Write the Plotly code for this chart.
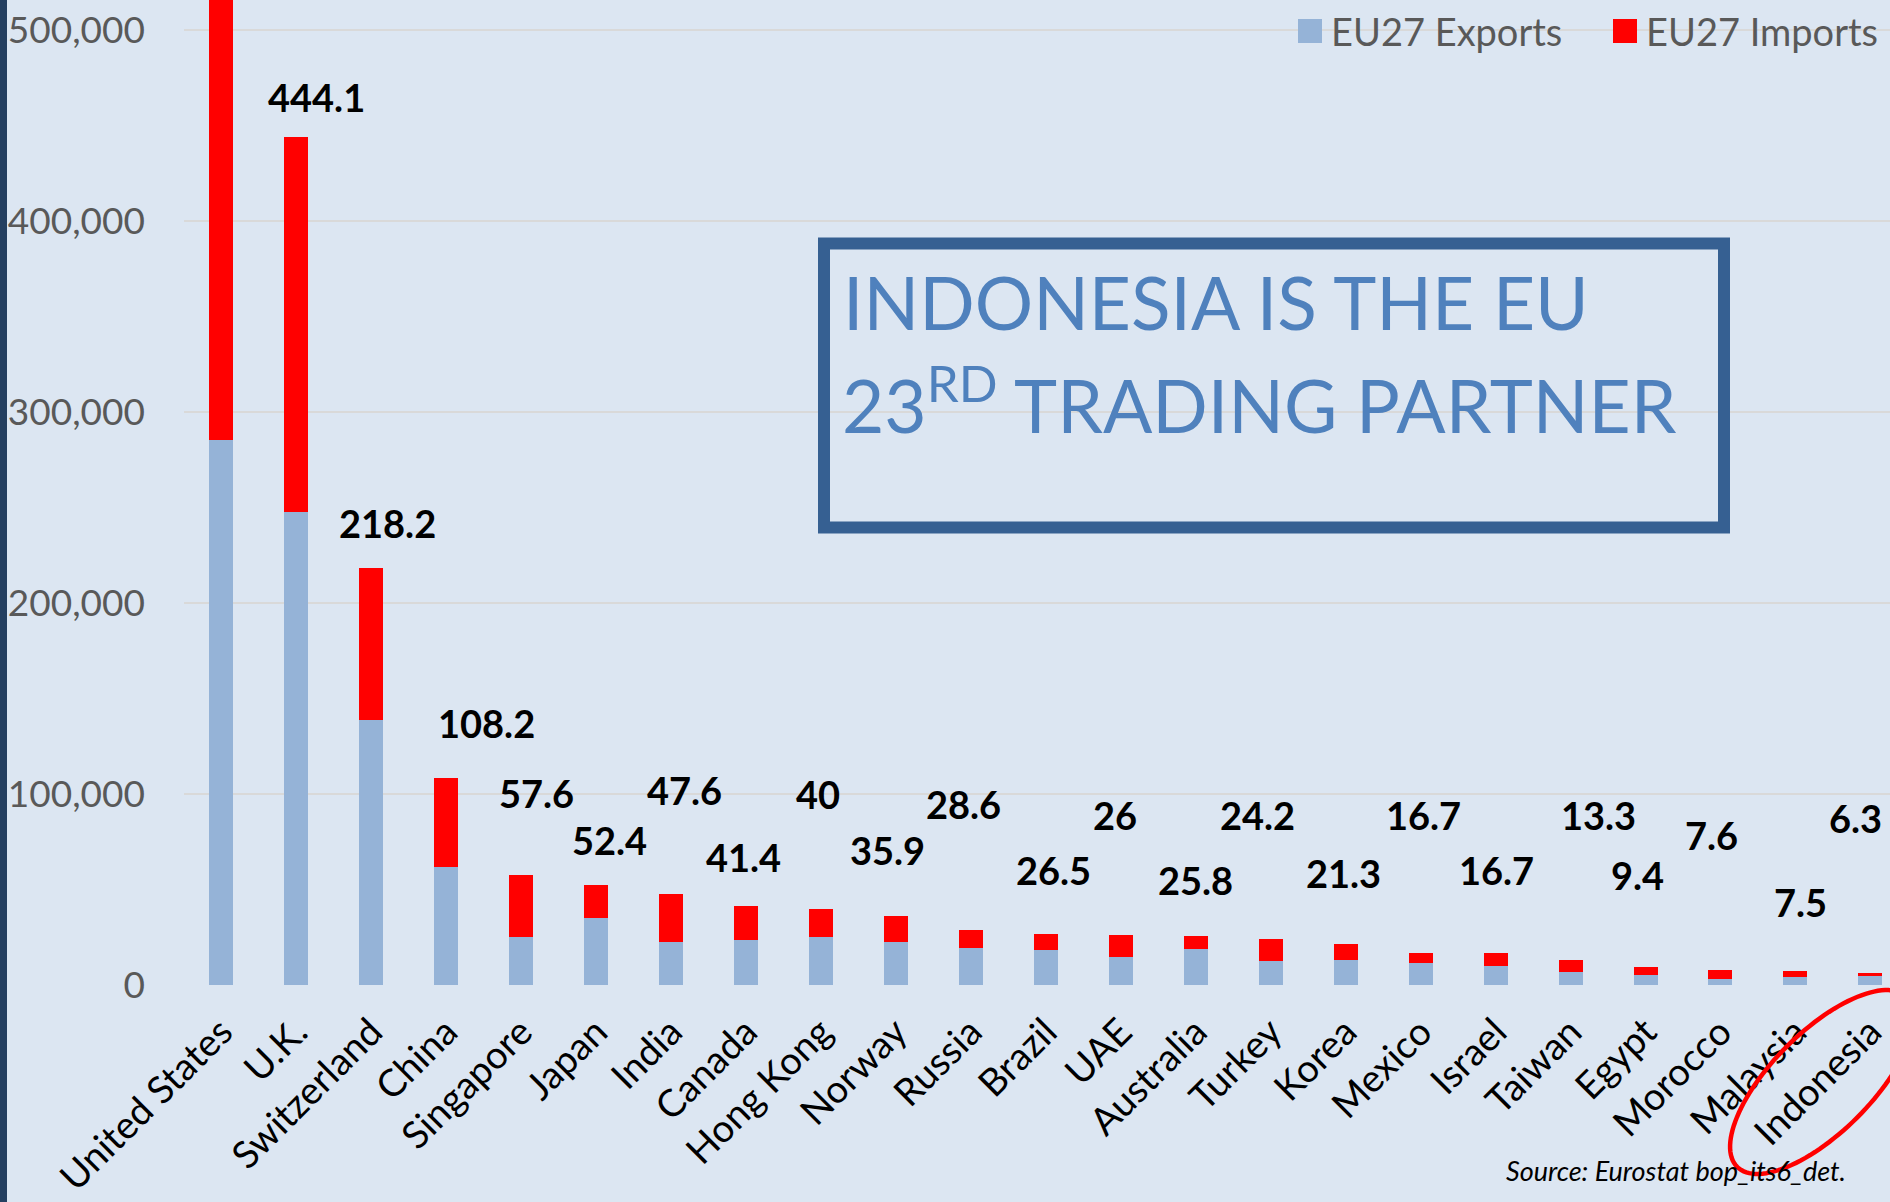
import numpy as np
import plotly.graph_objects as go

# ---------------- data (EUR million) ----------------
countries = ["United States", "U.K.", "Switzerland", "China", "Singapore", "Japan",
             "India", "Canada", "Hong Kong", "Norway", "Russia", "Brazil", "UAE",
             "Australia", "Turkey", "Korea", "Mexico", "Israel", "Taiwan", "Egypt",
             "Morocco", "Malaysia", "Indonesia"]
exports = [285300, 247800, 139000, 62000, 25000, 35300, 22400, 23700, 25000, 22300,
           19200, 18200, 14800, 18700, 12600, 13300, 11300, 9800, 6600, 5100,
           3100, 4200, 4900]
imports = [335000, 196300, 79200, 46200, 32600, 17100, 25200, 17700, 15000, 13600,
           9400, 8300, 11200, 7100, 11600, 8000, 5400, 6900, 6700, 4300,
           4500, 3300, 1400]
tick_vals = [0, 100000, 200000, 300000, 400000, 500000]
tick_text = ["0", "100,000", "200,000", "300,000", "400,000", "500,000"]
series_names = ["EU27 Exports", "EU27 Imports"]
series_colors = ["#95B3D7", "#FF0000"]

# ---------------- label layout (positions, not data) ----------------
label_y = [None, 465000, 242000, 137000, 100500, 76000, 102000, 67000, 100000, 70500,
           95000, 60000, 89000, 55000, 89000, 58500, 89000, 60000, 89000, 57500,
           78500, 43500, 87500]
label_dx = [0, 20, 16, 40, 15, 13, 13, -3, -3, -9, -7, 8, -6, 0, -13, -2, 3, 1, 28,
            -8, -9, 5, -15]

# ---------------- geometry ----------------
W, H = 1890, 1202
PL, PT = 184, 0
PW, PH = W - PL, 985
CAT_W = 74.95
BG = "#DCE6F2"
FONT = "Lato"


def fx(xp):
    return (xp - PL) / PW


def fy(yp):
    return (PT + PH - yp) / PH


y_top = PH / 191.0 * 100000
x_max = -0.5 + PW / CAT_W

fig = go.Figure()
for name, vals, col in zip(series_names, [exports, imports], series_colors):
    fig.add_trace(go.Bar(x=countries, y=vals, name=name,
                         marker=dict(color=col, line=dict(width=0)),
                         width=0.32, showlegend=False))

annotations = []
for i, c in enumerate(countries):
    if label_y[i] is None:
        continue
    total = round((exports[i] + imports[i]) / 1000.0, 1)
    annotations.append(dict(
        x=c, y=label_y[i], xref="x", yref="y", xshift=label_dx[i],
        text=f"<b>{total:g}</b>", showarrow=False,
        xanchor="center", yanchor="middle",
        font=dict(family=FONT, size=38, color="#000000")))

# headline box text
annotations.append(dict(
    x=fx(841), y=fy(348), xref="paper", yref="paper", xanchor="left", yanchor="bottom",
    text="INDONESIA IS THE EU", showarrow=False,
    font=dict(family=FONT, size=73, color="#4F81BD")))
annotations.append(dict(
    x=fx(840), y=fy(451), xref="paper", yref="paper", xanchor="left", yanchor="bottom",
    text="23<sup>RD</sup> TRADING PARTNER", showarrow=False,
    font=dict(family=FONT, size=73, color="#4F81BD")))

# source
annotations.append(dict(
    x=fx(1848), y=fy(1170), xref="paper", yref="paper", xanchor="right", yanchor="middle",
    text="<i>Source: Eurostat bop_its6_det.</i>", showarrow=False,
    font=dict(family=FONT, size=27, color="#000000")))

shapes = []
# legend (swatches + labels)
legend_sq_x = [1298, 1613]
for name, col, lx in zip(series_names, series_colors, legend_sq_x):
    shapes.append(dict(type="rect", xref="paper", yref="paper",
                       x0=fx(lx), x1=fx(lx + 24), y0=fy(43), y1=fy(19),
                       fillcolor=col, line=dict(width=0), layer="above"))
    annotations.append(dict(
        x=fx(lx + 31), y=fy(31), xref="paper", yref="paper", xanchor="left",
        yanchor="middle", text=name, showarrow=False,
        font=dict(family=FONT, size=38, color="#595959")))

# dark left strip
shapes.append(dict(type="rect", xref="paper", yref="paper",
                   x0=fx(0), x1=fx(7), y0=fy(H), y1=fy(0),
                   fillcolor="#243F60", line=dict(width=0), layer="above"))
# headline box
shapes.append(dict(type="rect", xref="paper", yref="paper",
                   x0=fx(824), x1=fx(1724), y0=fy(527.5), y1=fy(243.5),
                   fillcolor="rgba(0,0,0,0)", line=dict(color="#366092", width=12),
                   layer="above"))
# red ellipse around Indonesia
cx, cy, a, b = 1822.0, 1082.0, 120.0, 50.0
t = np.linspace(0, 2 * np.pi, 121)
ux, uy = np.cos(np.pi / 4), -np.sin(np.pi / 4)
vx, vy = np.cos(np.pi / 4), np.sin(np.pi / 4)
ex = cx + a * np.cos(t) * ux + b * np.sin(t) * vx
ey = cy + a * np.cos(t) * uy + b * np.sin(t) * vy
path = "M " + " L ".join(f"{fx(xx):.5f},{fy(yy):.5f}" for xx, yy in zip(ex, ey)) + " Z"
shapes.append(dict(type="path", xref="paper", yref="paper", path=path,
                   line=dict(color="#FF0000", width=4.5), fillcolor="rgba(0,0,0,0)",
                   layer="above"))

fig.update_layout(
    template="none",
    width=W, height=H,
    margin=dict(l=PL, r=0, t=PT, b=H - PT - PH, pad=0),
    paper_bgcolor=BG, plot_bgcolor=BG,
    barmode="stack",
    font=dict(family=FONT, color="#595959"),
    showlegend=False,
    xaxis=dict(type="category", range=[-0.5, x_max], showgrid=False, zeroline=False,
               showline=False, ticks="", tickangle=-45,
               tickfont=dict(family=FONT, size=38, color="#000000"),
               ticklabelstandoff=16,
               automargin=False, fixedrange=True),
    yaxis=dict(range=[0, y_top], tickvals=tick_vals, ticktext=tick_text,
               showgrid=True, gridcolor="#D9D9D9", gridwidth=2,
               zeroline=False, showline=False, ticks="",
               tickfont=dict(family=FONT, size=37, color="#595959"),
               ticklabelstandoff=38, automargin=False, fixedrange=True),
    annotations=annotations,
    shapes=shapes,
)

fig.write_html("out.html", config={"displayModeBar": False},
               post_script="document.body.style.margin='0';document.body.style.overflow='hidden';")
